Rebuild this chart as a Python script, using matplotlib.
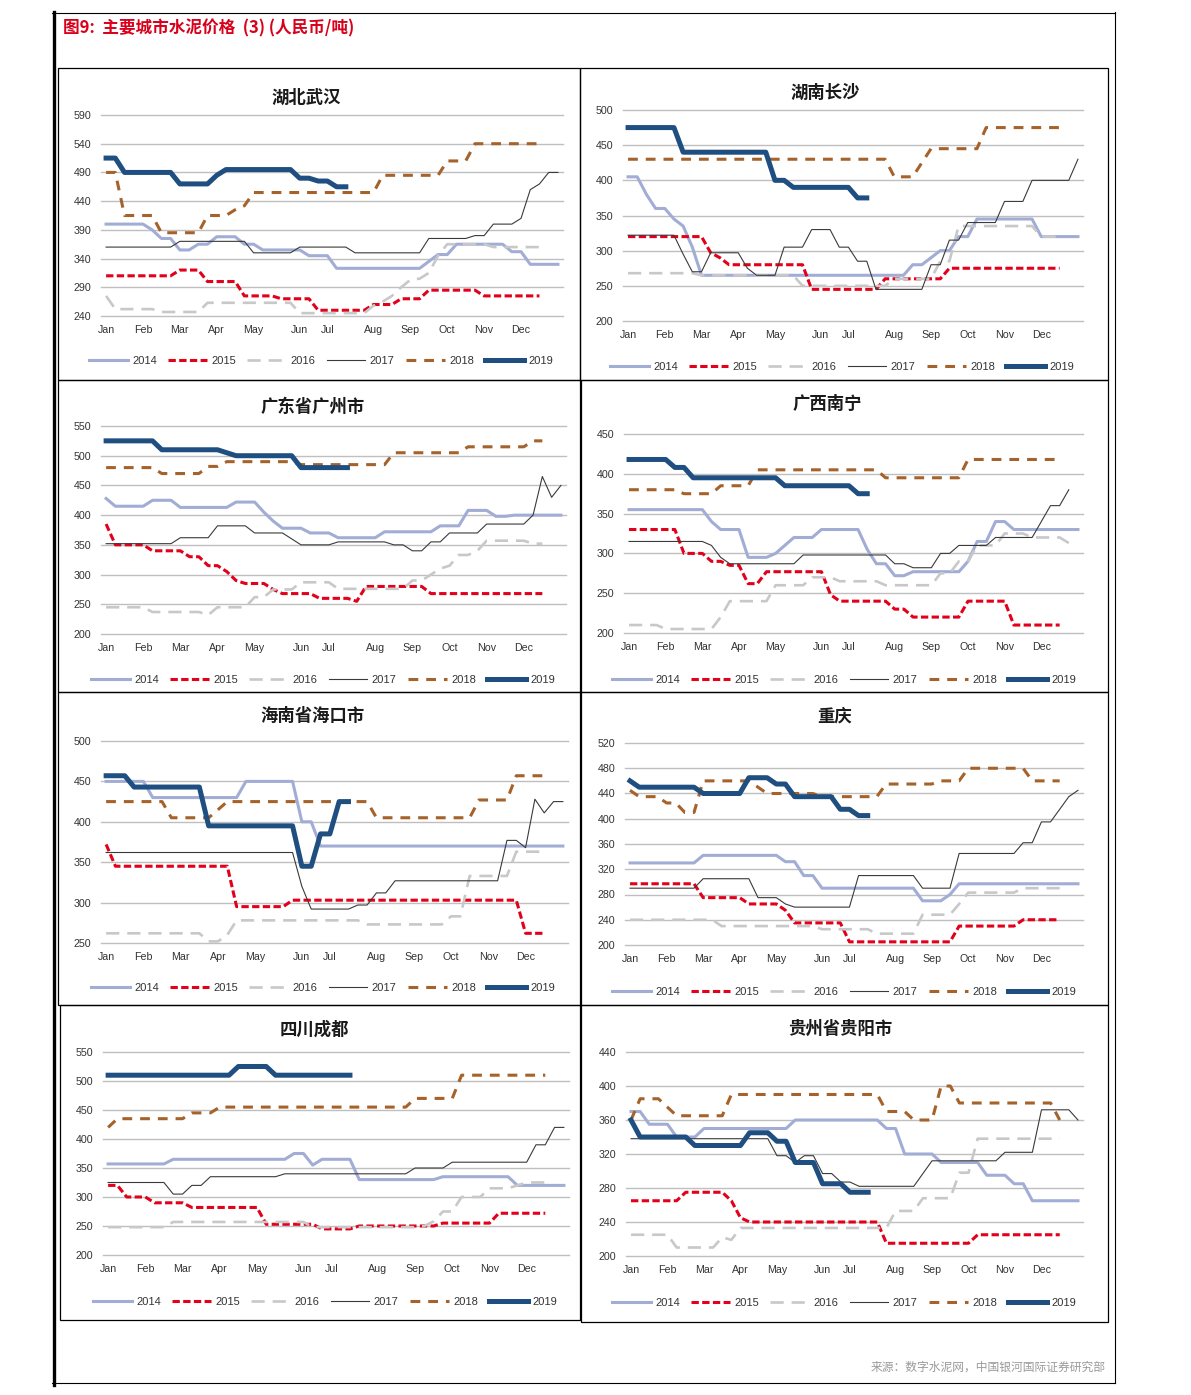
import matplotlib.pyplot as plt
from matplotlib.lines import Line2D
from matplotlib.patches import Rectangle

plt.rcParams['font.family'] = ['Liberation Sans', 'Noto Sans CJK SC']

W, H = 1191, 1395

months = ['Jan', 'Feb', 'Mar', 'Apr', 'May', 'Jun', 'Jul', 'Aug', 'Sep', 'Oct', 'Nov', 'Dec']
month_week = [0, 4, 8, 12, 16, 21, 24, 29, 33, 37, 41, 45]
years = ['2014', '2015', '2016', '2017', '2018', '2019']
cities = ['湖北武汉', '湖南长沙', '广东省广州市', '广西南宁',
          '海南省海口市', '重庆', '四川成都', '贵州省贵阳市']
y_lo = [240, 200, 200, 200, 250, 200, 200, 200]
y_hi = [590, 500, 550, 450, 500, 520, 550, 440]
y_step = [50, 50, 50, 50, 50, 40, 50, 40]

# 周度价格 (元/吨)
wuhan_2014 = [400,400,400,400,400,390,375,375,355,355,365,365,378,378,378,365,365,355,355,355,
              355,355,345,345,345,323,323,323,323,323,323,323,323,323,323,335,347,347,365,365,
              365,365,365,365,352,352,330,330,330,330]
wuhan_2015 = [310,310,310,310,310,310,310,310,320,320,320,300,300,300,300,275,275,275,275,270,
              270,270,270,250,250,250,250,250,250,260,260,260,270,270,270,285,285,285,285,285,
              285,275,275,275,275,275,275,275]
wuhan_2016 = [275,252,252,252,252,252,247,247,247,247,247,263,263,263,263,263,263,263,263,263,
              263,245,245,245,245,245,245,245,245,258,265,275,290,303,305,315,345,365,365,365,
              365,365,360,360,360,360,360,360]
wuhan_2017 = [360,360,360,360,360,360,360,360,370,370,370,370,370,370,370,370,350,350,350,350,
              350,360,360,360,360,360,360,350,350,350,350,350,350,350,350,375,375,375,375,375,
              380,380,400,400,400,410,460,470,490,490]
wuhan_2018 = [490,490,415,415,415,415,385,385,385,385,385,415,415,415,425,432,455,455,455,455,
              455,455,455,455,455,455,455,455,455,455,485,485,485,485,485,485,485,510,510,510,
              540,540,540,540,540,540,540,540]
wuhan_2019 = [515,515,490,490,490,490,490,490,470,470,470,470,485,495,495,495,495,495,495,495,
              495,480,480,475,475,465,465]

changsha_2014 = [405,405,380,360,360,345,335,305,265,265,265,265,265,265,265,265,265,265,265,265,
                 265,265,265,265,265,265,265,265,265,265,265,280,280,290,300,300,320,320,345,345,
                 345,345,345,345,345,320,320,320,320,320]
changsha_2015 = [320,320,320,320,320,320,320,320,320,297,290,280,280,280,280,280,280,280,280,280,
                 245,245,245,245,245,245,245,245,260,260,260,260,260,260,260,275,275,275,275,275,
                 275,275,275,275,275,275,275,275]
changsha_2016 = [268,268,268,268,268,268,268,268,265,265,265,265,265,265,265,265,265,265,265,250,
                 250,250,250,250,250,250,250,250,250,260,260,260,260,260,285,285,335,335,335,335,
                 335,335,335,335,335,320,320,320]
changsha_2017 = [322,322,322,322,322,322,295,270,270,297,297,297,297,275,265,265,265,305,305,305,
                 330,330,330,305,305,285,285,245,245,245,245,245,245,280,280,315,315,340,340,340,
                 340,370,370,370,400,400,400,400,400,430]
changsha_2018 = [430,430,430,430,430,430,430,430,430,430,430,430,430,430,430,430,430,430,430,430,
                 430,430,430,430,430,430,430,430,430,405,405,405,425,445,445,445,445,445,445,475,
                 475,475,475,475,475,475,475,475]
changsha_2019 = [475,475,475,475,475,475,440,440,440,440,440,440,440,440,440,440,400,400,390,390,
                 390,390,390,390,390,375,375]

guangzhou_2014 = [428,415,415,415,415,425,425,425,413,413,413,413,413,413,422,422,422,405,390,378,
                  378,378,370,370,370,362,362,362,362,362,372,372,372,372,372,372,382,382,382,408,
                  408,408,398,398,400,400,400,400,400,400]
guangzhou_2015 = [385,350,350,350,350,340,340,340,340,330,330,315,315,305,290,285,285,285,275,268,
                  268,268,268,260,260,260,260,255,280,280,280,280,280,280,280,268,268,268,268,268,
                  268,268,268,268,268,268,268,268]
guangzhou_2016 = [245,245,245,245,245,237,237,237,237,237,237,232,245,245,245,245,262,262,275,275,
                  275,287,287,287,287,276,276,276,276,276,276,276,276,290,290,300,310,315,333,333,
                  340,357,357,357,357,357,352,352]
guangzhou_2017 = [352,352,352,352,352,352,352,352,362,362,362,362,382,382,382,382,370,370,370,370,
                  360,350,350,350,350,355,355,355,355,355,355,350,350,340,340,355,355,370,370,370,
                  370,385,385,385,385,385,400,465,430,450]
guangzhou_2018 = [480,480,480,480,480,480,470,470,470,470,470,482,482,490,490,490,490,490,490,490,
                  490,485,485,485,485,485,485,485,485,485,485,505,505,505,505,505,505,505,505,515,
                  515,515,515,515,515,515,525,525]
guangzhou_2019 = [525,525,525,525,525,525,510,510,510,510,510,510,510,505,500,500,500,500,500,500,
                  500,480,480,480,480,480,480]

nanning_2014 = [355,355,355,355,355,355,355,355,355,340,330,330,330,295,295,295,300,310,320,320,
                320,330,330,330,330,330,305,287,287,272,272,277,277,277,277,277,277,290,315,315,
                340,340,330,330,330,330,330,330,330,330]
nanning_2015 = [330,330,330,330,330,330,300,300,300,290,290,285,285,262,262,277,277,277,277,277,
                277,277,248,240,240,240,240,240,240,230,230,220,220,220,220,220,220,240,240,240,
                240,240,210,210,210,210,210,210]
nanning_2016 = [210,210,210,210,205,205,205,205,205,205,220,240,240,240,240,240,260,260,260,260,
                270,270,270,265,265,265,265,265,260,260,260,260,260,260,275,275,290,290,310,310,
                310,325,325,325,320,320,320,320,313]
nanning_2017 = [315,315,315,315,315,315,315,315,315,310,295,287,287,287,287,287,287,287,287,298,
                298,298,298,298,298,298,298,298,298,287,287,282,282,282,300,300,310,310,310,310,
                320,320,320,320,320,340,360,360,380]
nanning_2018 = [380,380,380,380,380,380,375,375,375,375,385,385,385,385,405,405,405,405,405,405,
                405,405,405,405,405,405,405,405,395,395,395,395,395,395,395,395,395,418,418,418,
                418,418,418,418,418,418,418,418]
nanning_2019 = [418,418,418,418,418,408,408,395,395,395,395,395,395,395,395,395,395,385,385,385,
                385,385,385,385,385,375,375]

haikou_2014 = [450,450,450,450,450,430,430,430,430,430,430,430,430,430,430,450,450,450,450,450,
               450,400,400,370,370,370,370,370,370,370,370,370,370,370,370,370,370,370,370,370,
               370,370,370,370,370,370,370,370,370,370]
haikou_2015 = [372,345,345,345,345,345,345,345,345,345,345,345,345,345,295,295,295,295,295,295,
               303,303,303,303,303,303,303,303,303,303,303,303,303,303,303,303,303,303,303,303,
               303,303,303,303,303,262,262,262]
haikou_2016 = [262,262,262,262,262,262,262,262,262,262,262,252,252,260,278,278,278,278,278,278,
               278,278,278,278,278,278,278,278,273,273,273,273,273,273,273,273,273,283,283,333,
               333,333,333,333,363,363,363,363]
haikou_2017 = [362,362,362,362,362,362,362,362,362,362,362,362,362,362,362,362,362,362,362,362,
               362,320,292,292,292,292,292,297,297,312,312,327,327,327,327,327,327,327,327,327,
               327,327,327,377,377,368,428,411,425,425]
haikou_2018 = [425,425,425,425,425,425,425,405,405,405,405,405,415,425,425,425,425,425,425,425,
               425,425,425,425,425,425,425,425,425,405,405,405,405,405,405,405,405,405,405,405,
               427,427,427,427,457,457,457,457]
haikou_2019 = [457,457,457,443,443,443,443,443,443,443,443,395,395,395,395,395,395,395,395,395,
               395,345,345,385,385,425,425]

chongqing_2014 = [330,330,330,330,330,330,330,330,342,342,342,342,342,342,342,342,342,332,332,310,
                  310,290,290,290,290,290,290,290,290,290,290,290,270,270,270,280,297,297,297,297,
                  297,297,297,297,297,297,297,297,297,297]
chongqing_2015 = [297,297,297,297,297,297,297,297,275,275,275,275,275,265,265,265,265,255,235,235,
                  235,235,235,235,205,205,205,205,205,205,205,205,205,205,205,205,230,230,230,230,
                  230,230,230,240,240,240,240,240]
chongqing_2016 = [240,240,240,240,240,240,240,240,240,240,230,230,230,230,230,230,230,230,230,230,
                  230,225,225,225,225,225,225,218,218,218,218,218,248,248,248,248,265,283,283,283,
                  283,283,283,290,290,290,290,290]
chongqing_2017 = [290,290,290,290,290,290,290,290,305,305,305,305,305,305,275,275,275,265,260,260,
                  260,260,260,260,260,310,310,310,310,310,310,310,290,290,290,290,345,345,345,345,
                  345,345,345,362,362,395,395,415,435,445]
chongqing_2018 = [445,435,435,435,425,425,410,410,460,460,460,460,460,460,450,440,440,440,440,440,
                  440,435,435,435,435,435,435,435,455,455,455,455,455,455,460,460,460,480,480,480,
                  480,480,480,480,460,460,460,460]
chongqing_2019 = [460,450,450,450,450,450,450,450,440,440,440,440,440,465,465,465,455,455,435,435,
                  435,435,435,415,415,405,405]

chengdu_2014 = [357,357,357,357,357,357,357,365,365,365,365,365,365,365,365,365,365,365,365,365,
                375,375,355,365,365,365,365,330,330,330,330,330,330,330,330,330,335,335,335,335,
                335,335,335,335,320,320,320,320,320,320]
chengdu_2015 = [320,320,300,300,300,290,290,290,290,282,282,282,282,282,282,282,282,253,253,253,
                253,253,253,245,245,245,245,250,250,250,250,250,250,250,250,250,255,255,255,255,
                255,255,272,272,272,272,272,272]
chengdu_2016 = [248,248,248,248,248,248,248,257,257,257,257,257,257,257,257,257,257,257,257,257,
                257,257,248,248,248,248,248,248,248,248,248,248,248,248,250,258,275,275,300,300,
                300,315,315,315,320,325,325,325]
chengdu_2017 = [325,325,325,325,325,325,325,305,305,320,320,335,335,335,335,335,335,335,335,340,
                340,340,340,340,340,340,340,340,340,340,340,340,340,350,350,350,350,360,360,360,
                360,360,360,360,360,360,390,390,420,420]
chengdu_2018 = [420,435,435,435,435,435,435,435,435,445,445,445,455,455,455,455,455,455,455,455,
                455,455,455,455,455,455,455,455,455,455,455,455,455,470,470,470,470,470,510,510,
                510,510,510,510,510,510,510,510]
chengdu_2019 = [510,510,510,510,510,510,510,510,510,510,510,510,510,510,525,525,525,525,510,510,
                510,510,510,510,510,510,510]

guiyang_2014 = [370,370,355,355,355,340,340,340,350,350,350,350,350,350,350,350,350,350,360,360,
                360,360,360,360,360,360,360,360,350,350,320,320,320,320,310,310,310,310,310,295,
                295,295,285,285,265,265,265,265,265,265]
guiyang_2015 = [265,265,265,265,265,265,275,275,275,275,275,265,245,240,240,240,240,240,240,240,
                240,240,240,240,240,240,240,240,215,215,215,215,215,215,215,215,215,215,225,225,
                225,225,225,225,225,225,225,225]
guiyang_2016 = [225,225,225,225,225,210,210,210,210,210,222,219,233,233,233,233,233,233,233,233,
                233,233,233,233,233,233,233,233,233,253,253,253,268,268,268,268,298,298,338,338,
                338,338,338,338,338,338,338,338]
guiyang_2017 = [338,338,338,338,338,338,338,338,338,338,338,338,338,338,338,338,318,318,310,318,
                318,297,297,287,287,282,282,282,282,282,282,282,297,312,312,312,312,312,312,312,
                312,322,322,322,322,372,372,372,372,360]
guiyang_2018 = [360,385,385,385,375,365,365,365,365,365,365,390,390,390,390,390,390,390,390,390,
                390,390,390,390,390,390,390,390,370,370,370,360,360,360,400,400,380,380,380,380,
                380,380,380,380,380,380,380,360]
guiyang_2019 = [360,340,340,340,340,340,340,330,330,330,330,330,330,345,345,345,335,335,310,310,
                310,285,285,285,275,275,275]

data = [
    [wuhan_2014, wuhan_2015, wuhan_2016, wuhan_2017, wuhan_2018, wuhan_2019],
    [changsha_2014, changsha_2015, changsha_2016, changsha_2017, changsha_2018, changsha_2019],
    [guangzhou_2014, guangzhou_2015, guangzhou_2016, guangzhou_2017, guangzhou_2018, guangzhou_2019],
    [nanning_2014, nanning_2015, nanning_2016, nanning_2017, nanning_2018, nanning_2019],
    [haikou_2014, haikou_2015, haikou_2016, haikou_2017, haikou_2018, haikou_2019],
    [chongqing_2014, chongqing_2015, chongqing_2016, chongqing_2017, chongqing_2018, chongqing_2019],
    [chengdu_2014, chengdu_2015, chengdu_2016, chengdu_2017, chengdu_2018, chengdu_2019],
    [guiyang_2014, guiyang_2015, guiyang_2016, guiyang_2017, guiyang_2018, guiyang_2019],
]

# 线型
styles = [
    dict(color='#A2ADD6', lw=2.2),
    dict(color='#E2001A', lw=2.2, dashes=(2.4, 1.1)),
    dict(color='#C8C8C8', lw=1.9, dashes=(5.0, 3.0)),
    dict(color='#3A3A3A', lw=0.8),
    dict(color='#A5622A', lw=2.2, dashes=(3.2, 2.6)),
    dict(color='#1F4E80', lw=3.6),
]

# 版面 (像素)
boxes = [(58, 68, 580, 380), (580, 68, 1108, 380),
         (58, 380, 580, 692), (581, 380, 1108, 692),
         (58, 692, 580, 1005), (581, 692, 1108, 1005),
         (60, 1005, 580, 1320), (581, 1005, 1108, 1322)]
axes_px = [(101, 115, 563, 316), (623, 110, 1083, 321),
           (101, 426, 566, 634), (624, 434, 1083, 633),
           (101, 741, 568, 943), (625, 743, 1083, 945),
           (103, 1052, 569, 1255), (626, 1052, 1083, 1256)]
title_px = [(306, 98), (825, 93), (313, 407), (827, 404),
            (313, 716), (835, 717), (314, 1030), (840, 1029)]
legend_px = [(321, 361), (842, 367), (323, 680), (844, 680),
             (323, 988), (844, 992), (325, 1302), (844, 1303)]


def fx(x):
    return x / W


def fy(y):
    return 1 - y / H


fig = plt.figure(figsize=(W / 100, H / 100), dpi=100)

# 外框
fig.add_artist(Line2D([fx(53.5), fx(53.5)], [fy(12), fy(1385)], transform=fig.transFigure, color='black', lw=2.4))
fig.add_artist(Line2D([fx(52), fx(1115)], [fy(12.5), fy(12.5)], transform=fig.transFigure, color='black', lw=0.8))
fig.add_artist(Line2D([fx(1115), fx(1115)], [fy(12), fy(1383)], transform=fig.transFigure, color='black', lw=0.8))
fig.add_artist(Line2D([fx(52), fx(1115)], [fy(1383), fy(1383)], transform=fig.transFigure, color='black', lw=0.8))

fig.text(fx(63), fy(28), '图9:  主要城市水泥价格  (3) (人民币/吨)', color='#D9001B', fontsize=12,
         fontweight='bold', family=['Noto Sans CJK SC'], ha='left', va='center')
fig.text(fx(1106), fy(1367), '来源：数字水泥网，中国银河国际证券研究部', color='#9A9A9A', fontsize=8.5,
         family=['Noto Sans CJK SC'], ha='right', va='center')

for k in range(8):
    x0, y0, x1, y1 = boxes[k]
    fig.add_artist(Rectangle((fx(x0), fy(y1)), (x1 - x0) / W, (y1 - y0) / H, transform=fig.transFigure,
                             fill=False, ec='black', lw=0.9))
    l, t, r, b = axes_px[k]
    ax = fig.add_axes([fx(l), fy(b), (r - l) / W, (b - t) / H])
    for j, vals in enumerate(data[k]):
        ax.plot(range(len(vals)), vals, label=years[j], solid_joinstyle='round', **styles[j])
    ax.set_xlim(-0.55, 49.55)
    ax.set_ylim(y_lo[k], y_hi[k])
    ax.set_yticks(range(y_lo[k], y_hi[k] + 1, y_step[k]))
    ax.set_xticks(month_week)
    ax.set_xticklabels(months)
    ax.tick_params(length=0, labelsize=7.7, labelcolor='#333333')
    ax.tick_params(axis='y', pad=7)
    ax.tick_params(axis='x', pad=6.5)
    ax.grid(axis='y', color='#BFBFBF', lw=1)
    for gl in ax.get_ygridlines():
        gl.set_clip_on(False)
    ax.set_axisbelow(True)
    for s in ax.spines.values():
        s.set_visible(False)
    tx, ty = title_px[k]
    fig.text(fx(tx), fy(ty), cities[k], fontsize=12.5, fontweight='bold', family=['Noto Sans CJK SC'],
             ha='center', va='center', color='#1A1A1A')
    lx, ly = legend_px[k]
    ax.legend(loc='center', bbox_to_anchor=(fx(lx), fy(ly)), bbox_transform=fig.transFigure, ncol=6,
              frameon=False, fontsize=8, handlelength=3.5, handletextpad=0.4, columnspacing=1.0,
              labelcolor='#333333')

fig.savefig('out.png', dpi=100)
